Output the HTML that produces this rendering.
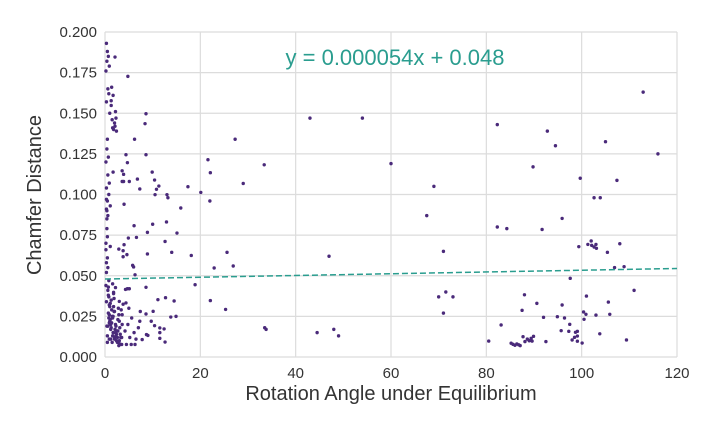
<!DOCTYPE html>
<html><head><meta charset="utf-8"><style>
body{margin:0;background:#fff;}
svg text{font-family:"Liberation Sans","DejaVu Sans",sans-serif;}
</style></head><body>
<svg id="chart" width="718" height="424" xmlns="http://www.w3.org/2000/svg">
<g id="grid"></g>
<g id="xticks"></g>
<g id="yticks"></g>
<g id="pts"></g>
<g id="fit"></g>
<text x="395" y="65" text-anchor="middle" font-size="22" fill="#2a9d8f">y = 0.000054x + 0.048</text>
<text x="391" y="400" text-anchor="middle" font-size="20" fill="#333">Rotation Angle under Equilibrium</text>
<text transform="translate(41,195) rotate(-90)" text-anchor="middle" font-size="20" fill="#333">Chamfer Distance</text>
</svg>
<script>
const xTicks=[0,20,40,60,80,100,120];
const yTicks=[0,0.025,0.05,0.075,0.1,0.125,0.15,0.175,0.2];
const yTickLabels=["0.000","0.025","0.050","0.075","0.100","0.125","0.150","0.175","0.200"];
const fitSlope=0.000054;
const fitIntercept=0.048;
const xs=[112.9,82.3,92.8,94.5,105.0,116.0,89.8,99.7,107.4,102.6,103.9,95.9,82.3,84.3,91.7,99.4,101.3,102.0,102.1,102.6,103.0,103.1,105.4,108.0,106.9,108.9,97.6,111.0,88.0,101.0,105.6,90.6,95.9,87.5,100.4,100.9,103.0,105.9,92.0,94.9,96.4,100.5,83.1,97.5,95.7,97.3,98.7,99.1,103.8,99.1,98.5,98.0,99.1,100.1,109.4,92.5,80.5,87.7,89.9,85.2,85.6,86.0,86.4,86.8,87.1,88.1,88.6,89.0,89.4,89.6,
43,54,60,67.5,69,71,71.5,70,71,73,47,44.5,48,49,33.5,
4.8,2.1,1.4,1.7,1.3,1.3,8.6,8.4,2.2,1.6,2.0,2.3,1.8,2.1,1.5,2.4,6.2,4.4,8.6,4.7,1.7,3.6,3.9,9.9,10.4,3.6,3.9,5.1,6.8,11.3,10.8,7.3,10.5,13.0,13.2,17.4,20.1,27.3,21.6,22.1,33.4,29.0,
0.3,0.5,0.7,0.4,0.9,0.2,0.6,0.8,0.3,1.0,0.5,0.4,0.7,0.2,0.6,0.9,0.3,0.8,0.5,1.1,0.4,0.6,
4.0,15.9,22.0,6.1,10.0,12.9,8.9,15.1,4.9,6.6,12.6,4.0,2.9,3.8,4.6,3.8,8.9,14.0,18.1,25.6,22.9,26.9,5.8,6.0,6.3,18.9,8.6,4.3,4.7,5.1,2.2,1.8,11.1,12.7,14.5,22.1,3.0,3.8,4.4,10.1,8.6,25.3,13.8,14.9,7.3,9.7,33.8,10.4,11.5,12.4,11.5,12.6,11.5,7.8,8.7,9.0,3.5,4.5,5.5,6.3,
1.4,0.3,2.6,0.9,3.1,0.5,1.8,2.2,0.2,1.1,2.9,0.7,1.6,3.4,0.4,2.0,1.3,0.8,2.7,0.3,1.9,3.0,0.6,1.2,2.4,0.2,1.7,0.9,3.3,2.1,0.5,1.0,2.8,1.5,0.3,2.3,0.7,1.9,3.6,1.2,0.4,2.5,0.8,1.6,3.1,0.2,2.0,1.1,0.6,2.7,1.4,0.3,3.2,1.8,0.9,2.4,0.5,1.3,2.9,0.7,1.7,0.4,3.5,1.0,2.2,0.6,1.5,2.6,0.3,1.2,0.8,2.0,0.5,3.0,1.6,0.9,2.3,1.1,5.2,6.1,7.0,4.8,5.6,6.5,7.4,4.2,3.6,5.0];
const ys=[0.163,0.143,0.139,0.130,0.1325,0.125,0.117,0.110,0.1087,0.098,0.098,0.0853,0.080,0.079,0.0785,0.0679,0.0693,0.0714,0.0687,0.0677,0.0693,0.0669,0.0644,0.0697,0.0550,0.0556,0.0484,0.0410,0.0383,0.0375,0.0338,0.0330,0.0320,0.0287,0.0277,0.0263,0.0258,0.0263,0.0244,0.0248,0.0240,0.0232,0.0197,0.0201,0.0162,0.0158,0.0152,0.0158,0.0143,0.0129,0.0121,0.0105,0.0097,0.0086,0.0105,0.0095,0.0098,0.0125,0.0127,0.0085,0.0078,0.0072,0.0080,0.0075,0.0070,0.0095,0.0110,0.0100,0.0115,0.0098,
0.147,0.147,0.119,0.087,0.105,0.065,0.040,0.037,0.027,0.037,0.062,0.015,0.017,0.013,0.018,
0.1727,0.1846,0.166,0.161,0.1577,0.1548,0.1497,0.1436,0.151,0.141,0.144,0.147,0.140,0.142,0.146,0.139,0.134,0.1245,0.1245,0.1196,0.1138,0.1146,0.1124,0.1138,0.1089,0.108,0.108,0.108,0.1095,0.1052,0.1032,0.1034,0.0999,0.0999,0.098,0.1048,0.1013,0.134,0.1214,0.1134,0.1183,0.1068,
0.193,0.188,0.185,0.182,0.179,0.176,0.165,0.162,0.157,0.150,0.134,0.128,0.123,0.120,0.112,0.107,0.104,0.100,0.096,0.093,0.090,0.087,
0.094,0.0917,0.096,0.0808,0.0817,0.0831,0.0767,0.0763,0.0732,0.0736,0.0711,0.0691,0.0664,0.0654,0.063,0.0617,0.0634,0.0644,0.0625,0.0644,0.0548,0.056,0.0564,0.0554,0.0506,0.0445,0.0429,0.0416,0.042,0.042,0.0427,0.0398,0.0353,0.0365,0.0345,0.0347,0.0342,0.0325,0.0333,0.0281,0.0265,0.0293,0.0246,0.025,0.022,0.022,0.017,0.0193,0.0179,0.0173,0.0150,0.0092,0.0115,0.0107,0.0138,0.0133,0.0077,0.0077,0.0077,0.0077,
0.021,0.034,0.012,0.026,0.018,0.009,0.031,0.015,0.044,0.023,0.007,0.038,0.013,0.029,0.019,0.011,0.035,0.024,0.016,0.052,0.028,0.010,0.041,0.020,0.014,0.066,0.025,0.032,0.012,0.017,0.074,0.022,0.030,0.009,0.058,0.013,0.027,0.036,0.020,0.011,0.085,0.016,0.047,0.024,0.008,0.070,0.012,0.033,0.019,0.023,0.029,0.097,0.014,0.039,0.021,0.010,0.061,0.018,0.026,0.043,0.015,0.079,0.012,0.031,0.020,0.055,0.025,0.009,0.091,0.017,0.037,0.028,0.013,0.022,0.045,0.011,0.019,0.068,0.012,0.015,0.018,0.020,0.024,0.011,0.028,0.016,0.026,0.030];
const L=105,R=677,T=32,B=357;
const sx=v=>L+(v-0)/(120-0)*(R-L);
const sy=v=>B-(v-0)/(0.2-0)*(B-T);
const NS="http://www.w3.org/2000/svg";
function mk(tag,attrs,parent){const e=document.createElementNS(NS,tag);for(const k in attrs)e.setAttribute(k,attrs[k]);parent.appendChild(e);return e;}
const grid=document.getElementById('grid'),gx=document.getElementById('xticks'),gy=document.getElementById('yticks');
xTicks.forEach(t=>{
  const l=mk('line',{x1:sx(t),x2:sx(t),y1:T,y2:B,stroke:'#dcdcdc','stroke-width':1.2},grid);
  
  
  const tx=mk('text',{x:sx(t),y:B+21,'text-anchor':'middle','font-size':15,fill:'#333'},gx);
  
  
  tx.textContent=t;
});
yTicks.forEach((t,i)=>{
  const l=mk('line',{x1:L,x2:R,y1:sy(t),y2:sy(t),stroke:'#dcdcdc','stroke-width':1.2},grid);
  
  
  const tx=mk('text',{x:L-8,y:sy(t)+5,'text-anchor':'end','font-size':15,fill:'#333'},gy);
  
  
  tx.textContent=yTickLabels[i];
});
const pts=document.getElementById('pts');
for(let i=0;i<Math.min(xs.length,ys.length);i++){
  const c=mk('circle',{cx:sx(xs[i]),cy:sy(ys[i]),r:1.7,fill:'#4a2a7a'},pts);
  
  
}
const fl=mk('line',{x1:sx(0),y1:sy(fitIntercept),x2:sx(120),y2:sy(fitIntercept+fitSlope*120),stroke:'#2a9d8f','stroke-width':1.5,'stroke-dasharray':'6,3'},document.getElementById('fit'));


</script>
</body></html>
